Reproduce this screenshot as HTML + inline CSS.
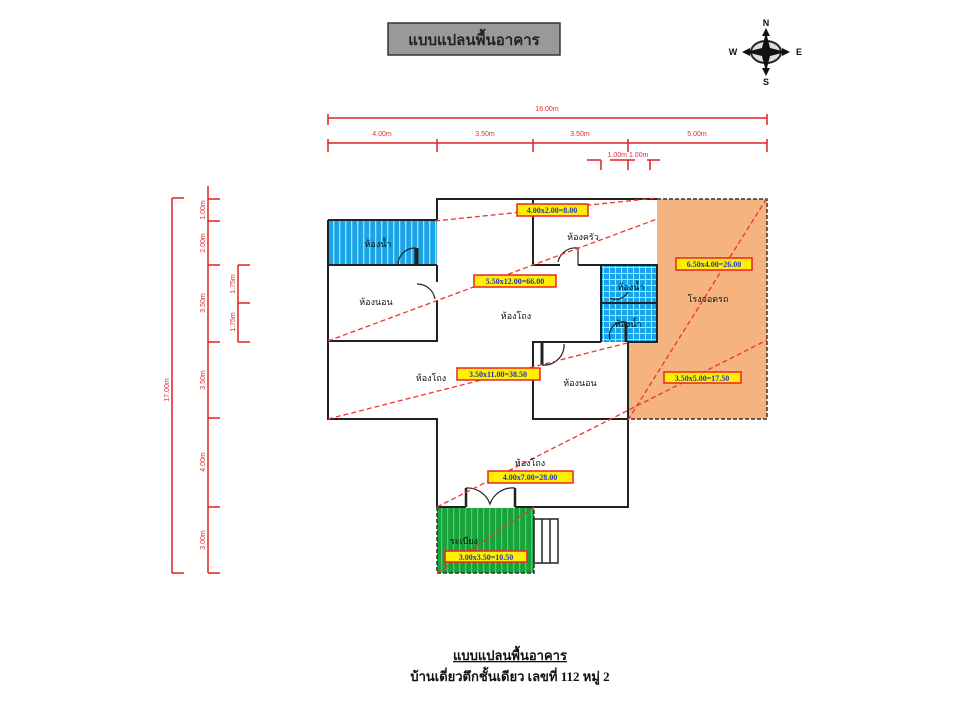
<!DOCTYPE html>
<html><head><meta charset="utf-8"><style>
html,body{margin:0;padding:0;background:#fff;}
svg{display:block;}
.dim{font-family:"Liberation Sans",sans-serif;font-size:7px;fill:#e03030;}
.rm{font-family:"Liberation Serif","DejaVu Sans",serif;font-size:9px;fill:#111;}
.lb{font-family:"Liberation Serif",serif;font-size:8px;font-weight:bold;fill:#2233cc;}
</style></head><body>
<svg width="960" height="720" viewBox="0 0 960 720" xmlns="http://www.w3.org/2000/svg">
<defs>
<pattern id="vs" width="6" height="10" patternUnits="userSpaceOnUse"><rect width="6" height="10" fill="#1aa4e6"/><rect x="3" width="1.3" height="10" fill="#9fdcff"/></pattern>
<pattern id="gr" width="6" height="6" patternUnits="userSpaceOnUse"><rect width="6" height="6" fill="#1aa4e6"/><rect x="3" width="1" height="6" fill="#a8e0ff"/><rect y="3" width="6" height="1" fill="#a8e0ff"/></pattern>
<pattern id="gs" width="6" height="10" patternUnits="userSpaceOnUse"><rect width="6" height="10" fill="#17a33a"/><rect x="3" width="1.2" height="10" fill="#4fcf6a"/></pattern>
</defs>

<!-- title -->
<rect x="388" y="23" width="172" height="32" fill="#999" stroke="#333" stroke-width="1.5"/>
<text x="474" y="45" text-anchor="middle" font-family="'Liberation Sans','DejaVu Sans',sans-serif" font-size="15" font-weight="bold" fill="#222">แบบแปลนพื้นอาคาร</text>

<!-- compass -->
<g transform="translate(766,52)">
<ellipse cx="0" cy="0" rx="15" ry="11" fill="#ddd" stroke="#222" stroke-width="2"/>
<polygon points="0,-20 4,-4 20,0 4,4 0,20 -4,4 -20,0 -4,-4" fill="#111"/>
<polygon points="0,-24 -4,-16 4,-16" fill="#111"/>
<polygon points="0,24 -4,16 4,16" fill="#111"/>
<polygon points="-24,0 -16,-4 -16,4" fill="#111"/>
<polygon points="24,0 16,-4 16,4" fill="#111"/>
<g font-family="'Liberation Sans',sans-serif" font-size="9" font-weight="bold" fill="#111" text-anchor="middle">
<text x="0" y="-26">N</text><text x="0" y="33">S</text><text x="-33" y="3">W</text><text x="33" y="3">E</text></g>
</g>

<!-- dimensions -->
<g stroke="#e02020" stroke-width="1.5" fill="none">
<line x1="328" y1="118" x2="767" y2="118"/>
<line x1="328" y1="114" x2="328" y2="125"/><line x1="767" y1="114" x2="767" y2="125"/>
<line x1="328" y1="143" x2="767" y2="143"/>
<line x1="328" y1="139" x2="328" y2="152"/><line x1="437" y1="139" x2="437" y2="152"/><line x1="533" y1="139" x2="533" y2="152"/><line x1="628" y1="139" x2="628" y2="152"/><line x1="767" y1="139" x2="767" y2="152"/>
<line x1="587" y1="160" x2="601" y2="160"/><line x1="601" y1="160" x2="601" y2="170"/>
<line x1="610" y1="160" x2="635" y2="160"/><line x1="628" y1="160" x2="628" y2="170"/>
<line x1="647" y1="160" x2="660" y2="160"/><line x1="650" y1="160" x2="650" y2="170"/>
<line x1="172" y1="198" x2="172" y2="573"/>
<line x1="172" y1="198" x2="184" y2="198"/><line x1="172" y1="573" x2="184" y2="573"/>
<line x1="208" y1="186" x2="208" y2="573"/>
<line x1="208" y1="199" x2="220" y2="199"/><line x1="208" y1="221" x2="220" y2="221"/><line x1="208" y1="265" x2="220" y2="265"/><line x1="208" y1="342" x2="220" y2="342"/><line x1="208" y1="418" x2="220" y2="418"/><line x1="208" y1="507" x2="220" y2="507"/><line x1="208" y1="573" x2="220" y2="573"/>
<line x1="238" y1="265" x2="238" y2="342"/>
<line x1="238" y1="265" x2="250" y2="265"/><line x1="238" y1="303" x2="250" y2="303"/><line x1="238" y1="342" x2="250" y2="342"/>
</g>
<g class="dim" text-anchor="middle">
<text x="547" y="111">16.00m</text>
<text x="382" y="136">4.00m</text><text x="485" y="136">3.50m</text><text x="580" y="136">3.50m</text><text x="697" y="136">5.00m</text>
<text x="628" y="157">1.00m 1.00m</text>
<text transform="translate(169,390) rotate(-90)">17.00m</text>
<text transform="translate(205,210) rotate(-90)">1.00m</text>
<text transform="translate(205,243) rotate(-90)">2.00m</text>
<text transform="translate(205,303) rotate(-90)">3.50m</text>
<text transform="translate(205,380) rotate(-90)">3.50m</text>
<text transform="translate(205,462) rotate(-90)">4.00m</text>
<text transform="translate(205,540) rotate(-90)">3.00m</text>
<text transform="translate(235,284) rotate(-90)">1.75m</text>
<text transform="translate(235,322) rotate(-90)">1.75m</text>
</g>

<!-- fills -->
<rect x="657" y="199" width="110" height="143" fill="#f5b47f"/>
<rect x="628" y="342" width="139" height="77" fill="#f5b47f"/>
<path d="M657,199 H767 V419 H628" fill="none" stroke="#333" stroke-width="1.5" stroke-dasharray="4,2"/>
<rect x="328" y="220" width="109" height="45" fill="url(#vs)"/>
<rect x="601" y="265" width="56" height="77" fill="url(#gr)"/>
<rect x="437" y="507" width="97" height="66" fill="url(#gs)"/>
<path d="M437,507 V573 H534 V507" fill="none" stroke="#333" stroke-width="1.5" stroke-dasharray="4,2"/>

<!-- walls -->
<g stroke="#222" stroke-width="2" fill="none">
<path d="M437,220 V199 H657"/>
<path d="M328,220 H437"/>
<path d="M328,220 V419 H437 V507"/>
<path d="M437,507 H534"/>
<path d="M534,507 H628 V419"/>
<path d="M328,265 H437"/>
<path d="M328,341 H437 V300"/>
<path d="M437,282 V265"/>
<path d="M533,199 V265 H560"/><path d="M578,265 H657 V342 H628 V419 H533 V342 H601"/>
<path d="M601,342 V265"/>
<path d="M601,303 H657"/>
</g>
<!-- doors -->
<g stroke="#222" stroke-width="1.2" fill="#fff">
<path d="M398,265 A17,17 0 0 1 415,248 V265" fill="none"/>
<path d="M417,248 V265" stroke-width="3"/>
<path d="M417,284 A18,18 0 0 1 435,299" fill="none"/>
<path d="M558,262 A18,18 0 0 1 578,248 V265" fill="none"/>
<path d="M610,298 A14,14 0 0 0 628,292" fill="none"/>
<path d="M610,340 A14,14 0 0 1 626,322 V342" fill="none"/><path d="M626,322 V342" stroke-width="3"/>
<path d="M542,343 V365" stroke-width="3"/><path d="M542,365 A20,20 0 0 0 564,344" fill="none"/>
<rect x="466" y="488" width="49" height="20" fill="#fff" stroke="none"/>
<path d="M466,507 V488 M515,507 V488" stroke-width="2.5"/>
<path d="M466,488 A24,24 0 0 1 490,504 A24,24 0 0 1 515,488" fill="none"/>
</g>
<!-- stairs -->
<g stroke="#222" stroke-width="1.5" fill="#fff">
<rect x="534" y="519" width="24" height="44"/>
<line x1="542" y1="519" x2="542" y2="563"/><line x1="550" y1="519" x2="550" y2="563"/>
</g>

<!-- red diagonals -->
<g stroke="#ee3333" stroke-width="1.3" stroke-dasharray="5,3" fill="none">
<line x1="435" y1="221" x2="657" y2="198"/>
<line x1="328" y1="341" x2="657" y2="219"/>
<line x1="328" y1="419" x2="627" y2="343"/>
<line x1="628" y1="420" x2="767" y2="198"/>
<line x1="437" y1="507" x2="767" y2="340"/>
<line x1="437" y1="573" x2="534" y2="507"/>
</g>

<!-- area labels -->
<g stroke="#ee2222" stroke-width="1.5" fill="#ffef00">
<rect x="517" y="204" width="71" height="12"/>
<rect x="474" y="275" width="82" height="12"/>
<rect x="676" y="258" width="76" height="12"/>
<rect x="457" y="368" width="83" height="12"/>
<rect x="664" y="372" width="77" height="11"/>
<rect x="488" y="471" width="85" height="12"/>
<rect x="445" y="551" width="82" height="11"/>
</g>
<g class="lb" text-anchor="middle">
<text x="552" y="213">4.00x2.00=8.00</text>
<text x="515" y="284">5.50x12.00=66.00</text>
<text x="714" y="267">6.50x4.00=26.00</text>
<text x="498" y="377">3.50x11.00=38.50</text>
<text x="702" y="381">3.50x5.00=17.50</text>
<text x="530" y="480">4.00x7.00=28.00</text>
<text x="486" y="560">3.00x3.50=10.50</text>
</g>

<!-- room names -->
<g class="rm" text-anchor="middle">
<text x="378" y="247">ห้องน้ำ</text>
<text x="583" y="240">ห้องครัว</text>
<text x="376" y="305">ห้องนอน</text>
<text x="516" y="319">ห้องโถง</text>
<text x="631" y="290">ห้องน้ำ</text>
<text x="628" y="327">ห้องน้ำ</text>
<text x="708" y="302">โรงจอดรถ</text>
<text x="431" y="381">ห้องโถง</text>
<text x="580" y="386">ห้องนอน</text>
<text x="530" y="466">ห้องโถง</text>
<text x="464" y="544">ระเบียง</text>
</g>

<!-- caption -->
<g font-family="'Liberation Serif','DejaVu Serif',serif" font-weight="bold" fill="#111" text-anchor="middle">
<text x="510" y="660" font-size="13" text-decoration="underline">แบบแปลนพื้นอาคาร</text>
<text x="510" y="681" font-size="13">บ้านเดี่ยวตึกชั้นเดียว  เลขที่ 112  หมู่ 2</text>
</g>
</svg>
</body></html>
